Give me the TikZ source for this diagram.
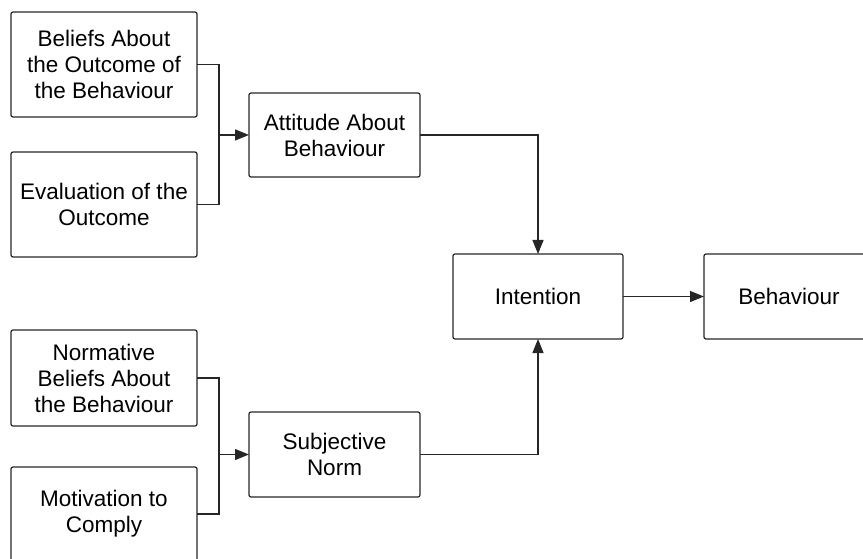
\documentclass[tikz,border=0pt]{standalone}
\usepackage{fontspec}
\setmainfont{Liberation Sans}
\usetikzlibrary{arrows.meta}
\begin{document}
\begin{tikzpicture}[x=1pt,y=-1pt,
  box/.style={draw=black!85,line width=1.2pt,rounded corners=2pt,align=center,outer sep=0pt,inner sep=2pt,
    font=\fontsize{22.5}{26}\selectfont,text=black},
  conn/.style={draw=black!85,line width=1.2pt},
  arr/.style={conn,-{Triangle[length=14pt,width=11pt]}}]
\useasboundingbox (0,0) rectangle (863,559);
\clip (0,0) rectangle (863,559);
\node[box,minimum width=186pt,minimum height=105pt] (b1) at (104,64.5) {Beliefs About\\the Outcome of\\the Behaviour};
\node[box,minimum width=186pt,minimum height=105pt] (b2) at (104,204.5) {Evaluation of the\\Outcome};
\node[box,minimum width=186pt,minimum height=96pt] (b3) at (104,378) {Normative\\Beliefs About\\the Behaviour};
\node[box,minimum width=186pt,minimum height=94pt] (b4) at (104,514) {Motivation to\\Comply};
\node[box,minimum width=171pt,minimum height=84pt] (att) at (334.5,135) {Attitude About\\Behaviour};
\node[box,minimum width=171pt,minimum height=85pt] (sn) at (334.5,454.5) {Subjective\\Norm};
\node[box,minimum width=170pt,minimum height=85pt] (int) at (538,296.5) {Intention};
\node[box,minimum width=170pt,minimum height=85pt] (beh) at (789,296.5) {Behaviour};
\coordinate (j1) at (219,135);
\coordinate (j2) at (219,454.5);
\draw[conn] (b1.east) -| (j1);
\draw[conn] (b2.east) -| (j1);
\draw[arr] (j1) -- (att.west);
\draw[conn] (b3.east) -| (j2);
\draw[conn] (b4.east) -| (j2);
\draw[arr] (j2) -- (sn.west);
\draw[arr] (att.east) -| (int.north);
\draw[arr] (sn.east) -| (int.south);
\draw[arr] (int.east) -- (beh.west);
\end{tikzpicture}
\end{document}
